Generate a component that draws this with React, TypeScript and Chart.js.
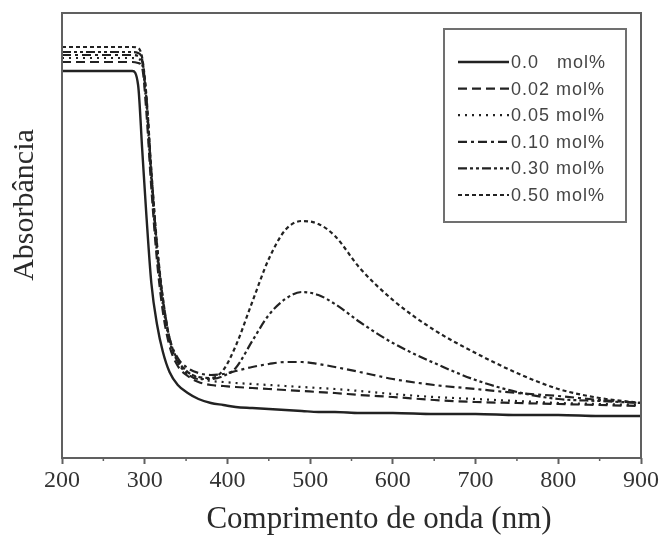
import React, { useEffect, useRef } from "react";
import { Chart, registerables } from "chart.js";

Chart.register(...registerables);

// Wavelength (nm)
const wavelengths = [200, 285, 292, 297, 302, 308, 315, 322, 330, 340, 352, 365, 380, 395, 410, 430, 450, 470, 490, 510, 530, 560, 600, 650, 700, 750, 800, 850, 900];

// Absorbance (arbitrary units)
const abs00 = [387, 387, 373, 308, 243, 175, 133, 106, 86, 73, 65, 59, 55, 53, 51, 50, 49, 48, 47, 46, 46, 45, 45, 44, 44, 43, 43, 42, 42];
const abs002 = [396, 396, 395, 390, 346, 270, 196, 146, 112, 92, 82, 76, 73, 72, 71, 70, 69, 68, 67, 66, 65, 63, 61, 58, 56, 55, 54, 53, 52];
const abs005 = [400, 400, 399, 394, 353, 278, 203, 153, 118, 98, 86, 80, 77, 76, 75, 74, 73, 72, 71, 70, 69, 67, 64, 61, 59, 57, 55, 54, 53];
const abs010 = [403, 403, 402, 396, 358, 283, 208, 158, 120, 100, 90, 85, 83, 84, 87, 91, 94, 96, 96, 94, 91, 86, 79, 73, 69, 65, 62, 58, 55];
const abs030 = [406, 406, 405, 398, 360, 286, 210, 158, 118, 96, 84, 79, 79, 82, 90, 117, 143, 159, 166, 163, 154, 136, 115, 95, 78, 66, 59, 57, 55];
const abs050 = [411, 411, 410, 400, 363, 288, 213, 160, 120, 98, 86, 81, 80, 88, 112, 156, 199, 228, 237, 234, 222, 190, 158, 128, 105, 85, 69, 60, 55];

const seriesLabels = ["0.0   mol%", "0.02 mol%", "0.05 mol%", "0.10 mol%", "0.30 mol%", "0.50 mol%"];
const seriesValues = [abs00, abs002, abs005, abs010, abs030, abs050];
const seriesDash = [[], [9, 5], [2, 5], [9, 4, 3, 4], [9, 3, 3, 3, 3, 3], [4, 3]];

const xTicks = [200, 300, 400, 500, 600, 700, 800, 900];
const minorTicks = [250, 350, 450, 550, 650, 750, 850];

const xTitle = "Comprimento de onda (nm)";
const yTitle = "Absorbância";

const LINE = "#222222";
const AXIS = "#606060";

const decorPlugin = {
  id: "decor",
  afterDraw(chart: any) {
    const { ctx, chartArea } = chart;
    const xs = chart.scales.x;
    ctx.save();
    // frame
    ctx.strokeStyle = AXIS;
    ctx.lineWidth = 2;
    ctx.setLineDash([]);
    ctx.strokeRect(chartArea.left, chartArea.top, chartArea.right - chartArea.left, chartArea.bottom - chartArea.top);
    // minor ticks
    ctx.lineWidth = 1.5;
    minorTicks.forEach((v) => {
      const px = xs.getPixelForValue(v);
      ctx.beginPath();
      ctx.moveTo(px, chartArea.bottom);
      ctx.lineTo(px, chartArea.bottom + 3);
      ctx.stroke();
    });
    // titles
    ctx.fillStyle = "#2a2a2a";
    ctx.font = '31px "Liberation Serif", "Times New Roman", serif';
    ctx.textAlign = "center";
    ctx.textBaseline = "alphabetic";
    ctx.fillText(xTitle, 379, 528);
    ctx.save();
    ctx.translate(25, 205);
    ctx.rotate(-Math.PI / 2);
    ctx.font = '30px "Liberation Serif", "Times New Roman", serif';
    ctx.textBaseline = "middle";
    ctx.fillText(yTitle, 0, 0);
    ctx.restore();
    // legend
    const bx = 444, by = 29, bw = 182, bh = 193;
    ctx.fillStyle = "#ffffff";
    ctx.fillRect(bx, by, bw, bh);
    ctx.strokeStyle = "#707070";
    ctx.lineWidth = 2;
    ctx.strokeRect(bx, by, bw, bh);
    chart.data.datasets.forEach((ds: any, i: number) => {
      const y = 62 + i * 26.6;
      ctx.strokeStyle = ds.borderColor;
      ctx.lineWidth = ds.borderWidth;
      ctx.setLineDash(ds.borderDash || []);
      ctx.beginPath();
      ctx.moveTo(458, y);
      ctx.lineTo(509, y);
      ctx.stroke();
      ctx.setLineDash([]);
      ctx.fillStyle = "#444444";
      ctx.font = '18px "Liberation Sans", Arial, sans-serif';
      (ctx as any).letterSpacing = "1px";
      ctx.textAlign = "left";
      ctx.textBaseline = "middle";
      ctx.fillText(ds.label, 511, y + 1);
      (ctx as any).letterSpacing = "0px";
    });
    ctx.restore();
  },
};

export default function App() {
  const ref = useRef<HTMLCanvasElement | null>(null);

  useEffect(() => {
    if (!ref.current) return;
    const datasets = seriesValues.map((vals, i) => ({
      label: seriesLabels[i],
      data: wavelengths.map((w, j) => ({ x: w, y: vals[j] })),
      borderColor: LINE,
      borderWidth: i === 0 ? 2.4 : 2.2,
      borderDash: seriesDash[i],
      pointRadius: 0,
      fill: false,
      cubicInterpolationMode: "monotone" as const,
    }));
    const chart = new Chart(ref.current, {
      type: "line",
      data: { datasets },
      plugins: [decorPlugin],
      options: {
        animation: false,
        responsive: true,
        maintainAspectRatio: false,
        layout: { padding: { left: 0, right: 22, top: 13, bottom: 0 } },
        plugins: { legend: { display: false }, tooltip: { enabled: false } },
        scales: {
          x: {
            type: "linear",
            min: 200,
            max: 900,
            afterBuildTicks: (scale: any) => {
              scale.ticks = xTicks.map((v) => ({ value: v }));
            },
            afterFit: (scale: any) => {
              scale.height = 81;
              scale.paddingLeft = 0;
              scale.paddingRight = 0;
            },
            grid: { drawOnChartArea: false, drawTicks: true, tickLength: 6, tickColor: AXIS, tickWidth: 2 },
            border: { display: false },
            ticks: {
              color: "#333333",
              padding: 2,
              maxRotation: 0,
              autoSkip: false,
              font: { family: '"Liberation Serif", "Times New Roman", serif', size: 24 },
            },
          },
          y: {
            type: "linear",
            min: 0,
            max: 445,
            afterFit: (scale: any) => {
              scale.width = 62;
            },
            grid: { display: false },
            border: { display: false },
            ticks: { display: false },
          },
        },
      },
    });
    return () => chart.destroy();
  }, []);

  return (
    <div style={{ position: "fixed", left: 0, top: 0, width: 663, height: 539, background: "#ffffff" }}>
      <canvas ref={ref} />
    </div>
  );
}
